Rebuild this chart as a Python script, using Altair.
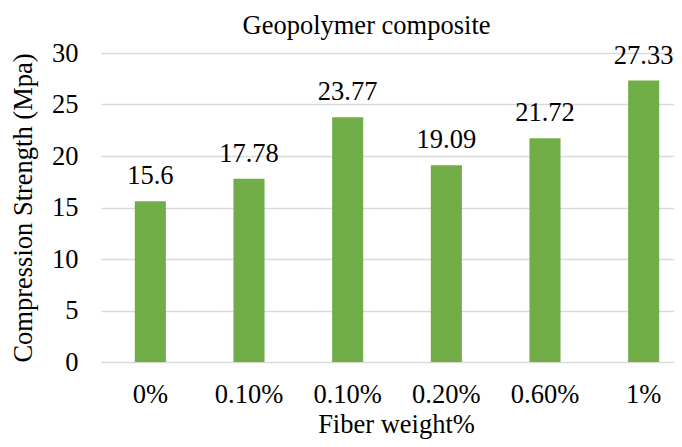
import altair as alt
import pandas as pd

categories = ["0%", "0.10%", "0.10%", "0.20%", "0.60%", "1%"]
values = [15.6, 17.78, 23.77, 19.09, 21.72, 27.33]
value_labels = ["15.6", "17.78", "23.77", "19.09", "21.72", "27.33"]

df = pd.DataFrame({
    "idx": list(range(len(categories))),
    "cat": categories,
    "val": values,
    "lab": value_labels,
})

label_expr = "[" + ",".join(f"'{c}'" for c in categories) + "][datum.value]"

FONT = "Liberation Serif"
LFS = 26.5
TFS = 26.5

x = alt.X(
    "idx:O",
    title="Fiber weight%",
    scale=alt.Scale(range=[0, 592], paddingInner=0.685, paddingOuter=0.3425),
    axis=alt.Axis(labelExpr=label_expr, labelAngle=0, domain=False, ticks=False,
                  labelPadding=19.5, titlePadding=3, labelFontSize=LFS, titleFontSize=TFS,
                  labelFont=FONT, titleFont=FONT, labelColor="#000", titleColor="#000",
                  titleFontWeight="normal", titleX=295),
)
y = alt.Y(
    "val:Q",
    title="Compression Strength (Mpa)",
    scale=alt.Scale(domain=[0, 30]),
    axis=alt.Axis(values=[0, 5, 10, 15, 20, 25, 30], domain=False, ticks=False,
                  labelPadding=23, titlePadding=14, labelFontSize=LFS, titleFontSize=TFS,
                  labelFont=FONT, titleFont=FONT, labelColor="#000", titleColor="#000",
                  titleFontWeight="normal", gridColor="#D9D9D9", gridWidth=1.5),
)

bars = alt.Chart(df).mark_bar(color="#70AD47").encode(x=x, y=y)
text = alt.Chart(df).mark_text(baseline="alphabetic", dy=-17, fontSize=LFS, font=FONT, color="#000").encode(
    x=x, y=y, text="lab:N"
)

chart = (bars + text).properties(
    width=573,
    height=309,
    autosize=alt.AutoSizeParams(type="none"),
    padding={"left": 93, "top": 45, "right": 0, "bottom": 77},
    title=alt.TitleParams("Geopolymer composite", font=FONT, fontSize=TFS, fontWeight="normal",
                          color="#000", offset=1, dx=-21),
).configure_view(stroke=None)

chart.save("out.html", embed_options={"renderer": "svg", "actions": False})
